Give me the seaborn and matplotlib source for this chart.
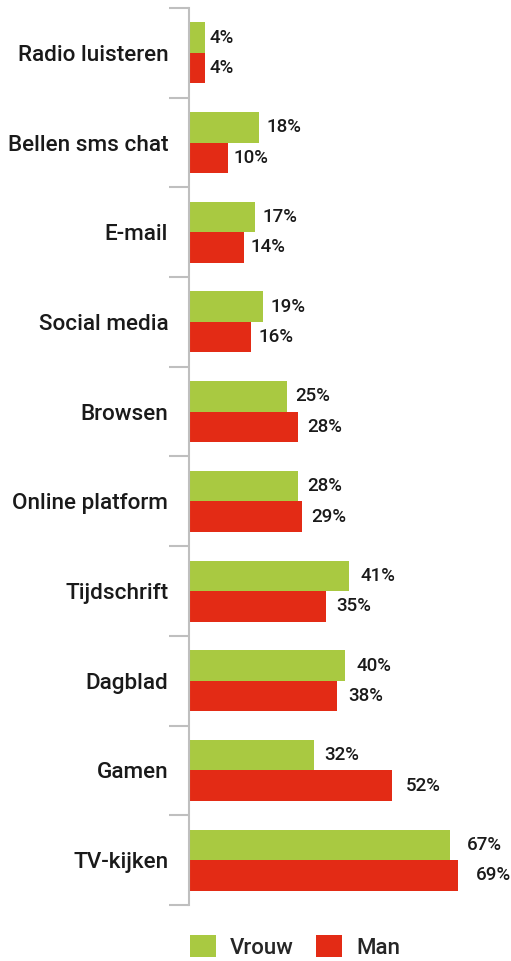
import matplotlib
matplotlib.use("Agg")
import matplotlib.pyplot as plt
from matplotlib.patches import Patch
import seaborn as sns
import pandas as pd

categories = ["Radio luisteren", "Bellen sms chat", "E-mail", "Social media", "Browsen",
              "Online platform", "Tijdschrift", "Dagblad", "Gamen", "TV-kijken"]
vrouw = [4, 18, 17, 19, 25, 28, 41, 40, 32, 67]
man = [4, 10, 14, 16, 28, 29, 35, 38, 52, 69]
series = ["Vrouw", "Man"]
colors = {"Vrouw": "#A9C941", "Man": "#E32B15"}

df = pd.DataFrame({
    "categorie": categories * 2,
    "waarde": vrouw + man,
    "geslacht": ["Vrouw"] * len(categories) + ["Man"] * len(categories),
})

sns.set_style("white")
plt.rcParams["font.family"] = ["Roboto", "DejaVu Sans"]

fig = plt.figure(figsize=(5.11, 9.61), dpi=100)
ax = fig.add_axes([189 / 511, 56 / 961, 311 / 511, 897 / 961])

sns.barplot(data=df, y="categorie", x="waarde", hue="geslacht", order=categories,
            hue_order=series, palette=colors, orient="h", width=0.68, gap=0,
            saturation=1, linewidth=0, legend=False, ax=ax)

# value labels just right of each bar
for container, vals in zip(ax.containers, [vrouw, man]):
    for bar, v in zip(container, vals):
        y = bar.get_y() + bar.get_height() / 2
        ax.text(v * 1.05 + 1.0, y, f"{v}%", va="center", ha="left",
                fontsize=13.5, color="#1a1a1a", fontweight="medium")

ax.set_xlim(0, 311 / 3.9)
ax.set_ylim(len(categories) - 0.5, -0.5)
ax.set_xlabel("")
ax.set_ylabel("")
ax.set_xticks([])

for s in ["top", "right", "bottom"]:
    ax.spines[s].set_visible(False)
ax.spines["left"].set_color("#BFBFBF")
ax.spines["left"].set_linewidth(1.5)

ax.set_yticks(range(len(categories)))
ax.set_yticklabels(categories, fontsize=16.2, fontweight="medium", color="#1a1a1a")
ax.tick_params(axis="y", which="major", length=0, pad=15)
ax.set_yticks([i - 0.5 for i in range(len(categories) + 1)], minor=True)
ax.tick_params(axis="y", which="minor", length=14.5, width=1.5, color="#BFBFBF", left=True)

handles = [Patch(facecolor=colors[s], edgecolor="none", label=s) for s in series]
fig.legend(handles=handles, loc="upper left", bbox_to_anchor=(190 / 511, 1 - 935 / 961),
           ncol=2, frameon=False, handlelength=1.17, handleheight=1.17,
           handletextpad=0.63, columnspacing=1.0, borderpad=0, borderaxespad=0,
           prop={"size": 16, "weight": "medium"})

fig.savefig("out.png", dpi=100)
